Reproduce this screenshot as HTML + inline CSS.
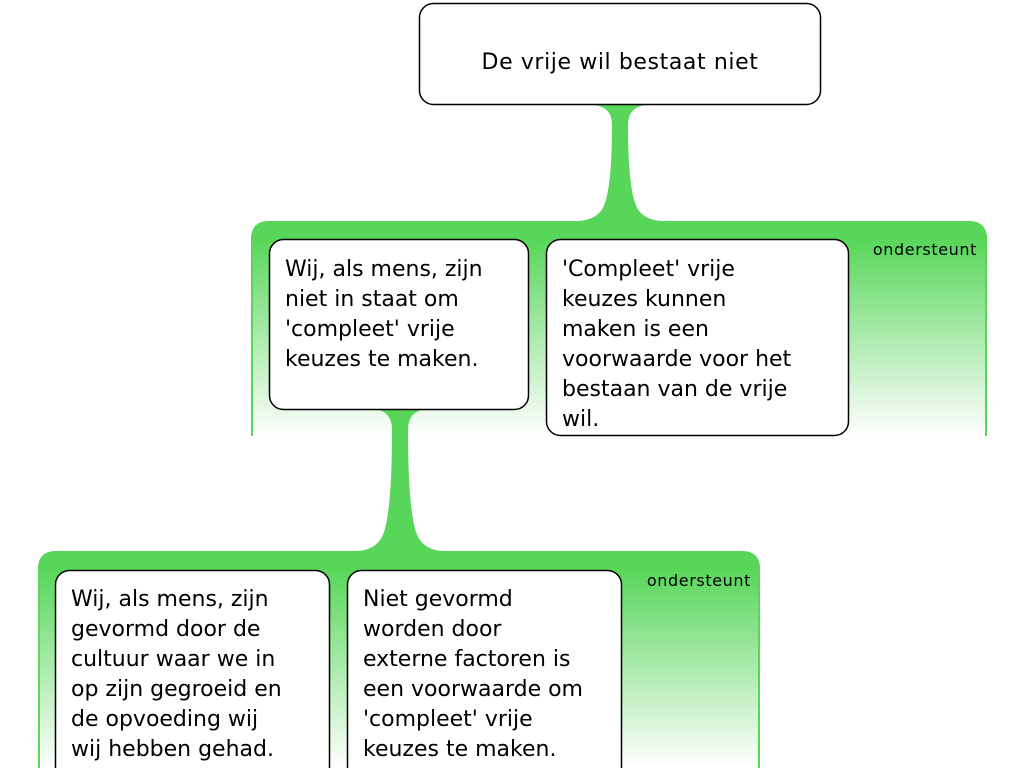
<!DOCTYPE html>
<html><head><meta charset="utf-8"><style>
body{margin:0;background:#fff;}
svg{display:block;font-family:"DejaVu Sans","Liberation Sans",sans-serif;}
</style></head><body>
<svg width="1024" height="768" viewBox="0 0 1024 768" xmlns="http://www.w3.org/2000/svg">
<defs>
<linearGradient id="g1" x1="0" y1="0" x2="0" y2="1">
<stop offset="0" stop-color="#57d659"/><stop offset="0.08" stop-color="#57d659"/><stop offset="1" stop-color="#57d659" stop-opacity="0"/>
</linearGradient>
</defs>
<path d="M251,436 L251,239 Q251,221 269,221 L969,221 Q987,221 987,239 L987,436 Z" fill="url(#g1)"/>
<rect x="251" y="236" width="2" height="200" fill="#57d659"/>
<rect x="985" y="236" width="2" height="200" fill="#57d659"/>
<path d="M594,105 L646,105 Q628,107 628,125 Q628,200 640,212 Q648,221 665,221 L575,221 Q592,221 600,212 Q612,200 612,125 Q612,107 594,105 Z" fill="#57d659"/>
<path d="M38,768 L38,569 Q38,551 56,551 L742,551 Q760,551 760,569 L760,768 Z" fill="url(#g1)"/>
<rect x="38" y="566" width="2" height="202" fill="#57d659"/>
<rect x="758" y="566" width="2" height="202" fill="#57d659"/>
<path d="M374,409 L426,409 Q408,411 408,430 Q408,525 420,540 Q428,551 445,551 L355,551 Q372,551 380,540 Q392,525 392,430 Q392,411 374,409 Z" fill="#57d659"/>

<g fill="#fff" stroke="#000" stroke-width="1.5">
<rect x="419.5" y="3.5" width="401" height="101" rx="14"/>
<rect x="269.5" y="239.5" width="259" height="170" rx="14"/>
<rect x="546.5" y="239.5" width="302" height="196" rx="14"/>
<rect x="55.5" y="570.5" width="274" height="210" rx="14"/>
<rect x="347.5" y="570.5" width="274" height="210" rx="14"/>
</g>
<text x="620" y="69" text-anchor="middle" font-size="22" letter-spacing="0.6">De vrije wil bestaat niet</text>
<g font-size="22" fill="#000">
<text x="285" y="276"><tspan x="285">Wij, als mens, zijn</tspan><tspan x="285" dy="30">niet in staat om</tspan><tspan x="285" dy="30">'compleet' vrije</tspan><tspan x="285" dy="30">keuzes te maken.</tspan></text>
<text x="562" y="276"><tspan x="562">'Compleet' vrije</tspan><tspan x="562" dy="30">keuzes kunnen</tspan><tspan x="562" dy="30">maken is een</tspan><tspan x="562" dy="30">voorwaarde voor het</tspan><tspan x="562" dy="30">bestaan van de vrije</tspan><tspan x="562" dy="30">wil.</tspan></text>
<text x="71" y="606"><tspan x="71">Wij, als mens, zijn</tspan><tspan x="71" dy="30">gevormd door de</tspan><tspan x="71" dy="30">cultuur waar we in</tspan><tspan x="71" dy="30">op zijn gegroeid en</tspan><tspan x="71" dy="30">de opvoeding wij</tspan><tspan x="71" dy="30">wij hebben gehad.</tspan></text>
<text x="363" y="606"><tspan x="363">Niet gevormd</tspan><tspan x="363" dy="30">worden door</tspan><tspan x="363" dy="30">externe factoren is</tspan><tspan x="363" dy="30">een voorwaarde om</tspan><tspan x="363" dy="30">'compleet' vrije</tspan><tspan x="363" dy="30">keuzes te maken.</tspan></text>
</g>
<g font-size="16" fill="#000" text-anchor="end" letter-spacing="0.6">
<text x="977" y="255">ondersteunt</text>
<text x="751" y="586">ondersteunt</text>
</g>
</svg>
</body></html>
